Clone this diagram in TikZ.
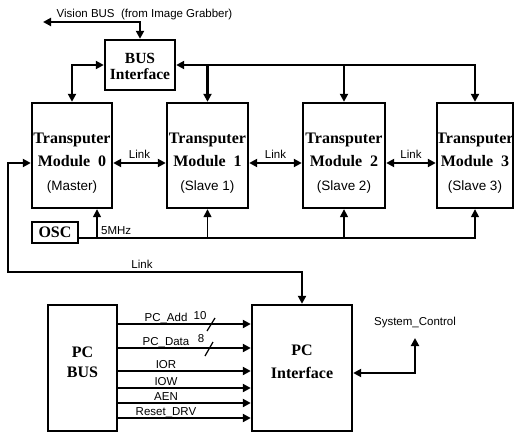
\documentclass[tikz,border=0pt]{standalone}
\usepackage{fontspec}
\setmainfont{Liberation Serif}
\setsansfont{Liberation Sans}
\usetikzlibrary{arrows.meta,calc}
\begin{document}
\begin{tikzpicture}[x=1pt,y=-1pt,
 box/.style={draw,line width=2.4pt,inner sep=0pt},
 ttl/.style={font=\fontsize{16}{23}\selectfont\bfseries\rmfamily,align=center,inner sep=0pt},
 lbl/.style={font=\fontsize{11.5}{13}\selectfont\sffamily,inner sep=0pt},
 sub/.style={font=\fontsize{13.5}{15}\selectfont\sffamily,inner sep=0pt},
 wire/.style={line width=2.4pt},
 thinwire/.style={line width=1.5pt},
 sigwire/.style={line width=2pt},
 tip/.style={-{Triangle[length=8pt,width=8pt]}},
 tips/.style={{Triangle[length=8pt,width=8pt]}-{Triangle[length=8pt,width=8pt]}},
]
\useasboundingbox (0,0) rectangle (518,433);

% boxes
\node[box,minimum width=70pt,minimum height=50pt] (bus) at (140,65) {};
\node[box,minimum width=80pt,minimum height=105pt] (tm0) at (72,155.5) {};
\node[box,minimum width=81pt,minimum height=105pt] (tm1) at (207.5,155.5) {};
\node[box,minimum width=82pt,minimum height=105pt] (tm2) at (344,155.5) {};
\node[box,minimum width=76pt,minimum height=105pt] (tm3) at (475,155.5) {};
\node[box,minimum width=46pt,minimum height=21pt,ttl] (osc) at (55,232.5) {OSC};
\node[box,minimum width=69pt,minimum height=126pt] (pcbus) at (82.5,368) {};
\node[box,minimum width=100pt,minimum height=126pt] (pcif) at (302,368) {};

% box texts
\node[ttl,font=\fontsize{15.5}{16}\selectfont\bfseries\rmfamily] (bust) at (140,66) {BUS\\Interface};
\node[ttl] (tm0t) at (72,149.5) {Transputer\\Module\ \ 0};
\node[ttl] (tm1t) at (207.5,149.5) {Transputer\\Module\ \ 1};
\node[ttl] (tm2t) at (344,149.5) {Transputer\\Module\ \ 2};
\node[ttl] (tm3t) at (475,149.5) {Transputer\\Module\ \ 3};
\node[sub] (tm0s) at (72,187) {(Master)};
\node[sub] (tm1s) at (207.5,187) {(Slave 1)};
\node[sub] (tm2s) at (344,187) {(Slave 2)};
\node[sub] (tm3s) at (475,187) {(Slave 3)};
\node[ttl,font=\fontsize{16}{20}\selectfont\bfseries\rmfamily] (pcbust) at (82.5,362) {PC\\BUS};
\node[ttl] (pcift) at (302,361.5) {PC\\Interface};

% vision bus
\coordinate (vb) at (43,22);
\draw[wire,tips] (vb) -| (bus.north);
\node[lbl] (vbl) at (144.5,15) {Vision BUS\ \ (from Image Grabber)};

% bus interface to modules
\draw[wire,tips] (tm0.north) |- (bus.west);
\draw[wire,tips] (bus.east) -| (tm3.north);
\draw[wire,tip] (tm1.north |- bus.east) -- (tm1.north);
\draw[wire,tip] (tm2.north |- bus.east) -- (tm2.north);

% links between modules
\coordinate (l0w) at ($(tm0.west)+(0,7.5)$);
\coordinate (l0e) at ($(tm0.east)+(0,7.5)$);
\coordinate (l1w) at ($(tm1.west)+(0,7.5)$);
\coordinate (l1e) at ($(tm1.east)+(0,7.5)$);
\coordinate (l2w) at ($(tm2.west)+(0,7.5)$);
\coordinate (l2e) at ($(tm2.east)+(0,7.5)$);
\coordinate (l3w) at ($(tm3.west)+(0,7.5)$);
\draw[wire,tips] (l0e) -- (l1w) node[midway,above=3pt,lbl] (lk1) {Link};
\draw[wire,tips] (l1e) -- (l2w) node[midway,above=3pt,lbl] (lk2) {Link};
\draw[wire,tips] (l2e) -- (l3w) node[midway,above=3pt,lbl] (lk3) {Link};

% oscillator
\coordinate (osce) at ($(osc.east)+(0,5.5)$);
\coordinate (t0b) at ($(tm0.south)+(25,0)$);
\draw[thinwire,tip] (osce) -| (tm3.south);
\draw[thinwire,tip] (t0b |- osce) -- (t0b);
\draw[thinwire,tip] (tm1.south |- osce) -- (tm1.south);
\draw[thinwire,tip] (tm2.south |- osce) -- (tm2.south);
\node[lbl,anchor=west] (mhz) at (101,231) {5MHz};

% link loop to PC interface
\coordinate (lk) at (8,272);
\draw[wire,tips] (l0w) -- (l0w -| lk) -- (lk) -| (pcif.north);
\node[lbl] (lkl) at (142,264) {Link};

% PC bus signals
\foreach \yy/\nm/\tx in {324/s1/PC\_Add,348/s2/PC\_Data,371/s3/IOR,388/s4/IOW,403/s5/AEN,418/s6/Reset\_DRV}{
  \coordinate (\nm a) at (pcbus.east |- 0,\yy);
  \coordinate (\nm b) at (pcif.west |- 0,\yy);
  \draw[sigwire,tip] (\nm a) -- (\nm b);
  \node[lbl,anchor=base] (\nm l) at (166,\yy-3) {\tx};
}
\node[lbl] (w10) at (200,316) {10};
\draw[line width=1.2pt] (207,331) -- (215,318);
\node[lbl] (w8) at (201,339) {8};
\draw[line width=1.2pt] (205,356) -- (213,342);

% system control
\coordinate (pcr) at ($(pcif.east)+(0,5)$);
\coordinate (sc) at (415,338);
\draw[wire,tips] (pcr) -| (sc);
\node[lbl] (scl) at (415,323) {System\_Control};
\end{tikzpicture}
\end{document}
